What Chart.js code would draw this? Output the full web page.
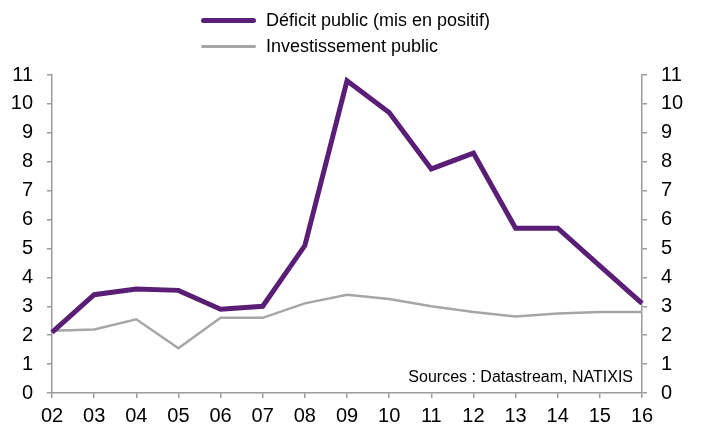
<!DOCTYPE html>
<html>
<head>
<meta charset="utf-8">
<script src="https://cdn.jsdelivr.net/npm/chart.js@4"></script>
<style>
  body { margin: 0; background: #fff; }
  #wrap { position: relative; width: 702px; height: 427px; }
  #legend { position: absolute; left: 201px; top: 7px; font: 18px "Liberation Sans", Arial, sans-serif; color: #000; }
  .row { display: flex; align-items: center; height: 26px; }
  .sw { width: 55px; margin-right: 10px; border-radius: 3px; }
</style>
</head>
<body>
<div id="wrap">
  <canvas id="chart" width="702" height="427"></canvas>
  <div id="legend">
    <div class="row"><span class="sw" style="height:5px;background:#5B1E77"></span>Déficit public (mis en positif)</div>
    <div class="row"><span class="sw" style="height:3px;background:#A6A6A6"></span>Investissement public</div>
  </div>
</div>
<script>
// années
const years = ["02", "03", "04", "05", "06", "07", "08", "09", "10", "11", "12", "13", "14", "15", "16"];
// déficit public (mis en positif), % du PIB
const deficit = [2.1, 3.4, 3.6, 3.55, 2.9, 3.0, 5.1, 10.8, 9.7, 7.75, 8.3, 5.7, 5.7, 4.4, 3.1];
// investissement public
const invest = [2.15, 2.2, 2.55, 1.55, 2.6, 2.6, 3.1, 3.4, 3.25, 3.0, 2.8, 2.65, 2.75, 2.8, 2.8];
const yTicks = [0, 1, 2, 3, 4, 5, 6, 7, 8, 9, 10, 11];

const fontFam = '"Liberation Sans", Arial, sans-serif';
const axisGrey = "#9B9B9B";

const sourcePlugin = {
    id: "source",
    afterDraw(chart) {
        const ctx = chart.ctx;
        ctx.save();
        ctx.font = "16px " + fontFam;
        ctx.fillStyle = "#000";
        ctx.textAlign = "right";
        ctx.textBaseline = "alphabetic";
        ctx.fillText("Sources : Datastream, NATIXIS", 633, 382);
        ctx.restore();
    }
};

function yAxis(pos, width, pad) {
    return {
        type: "linear",
        position: pos,
        min: 0,
        max: 11,
        afterBuildTicks: s => { s.ticks = yTicks.map(v => ({ value: v })); },
        afterFit: s => { s.width = width; },
        ticks: { color: "#000", font: { size: 20, family: fontFam }, padding: pad },
        grid: { drawOnChartArea: false, drawTicks: true, tickLength: 5, color: axisGrey, lineWidth: 1.5 },
        border: { color: axisGrey, width: 1.5 }
    };
}

new Chart(document.getElementById("chart").getContext("2d"), {
    type: "line",
    data: {
        labels: years,
        datasets: [
            {
                label: "Déficit public (mis en positif)",
                data: deficit,
                borderColor: "#5B1E77",
                borderWidth: 5,
                pointRadius: 0,
                tension: 0,
                yAxisID: "y"
            },
            {
                label: "Investissement public",
                data: invest,
                borderColor: "#A6A6A6",
                borderWidth: 2.5,
                pointRadius: 0,
                tension: 0,
                yAxisID: "y"
            }
        ]
    },
    options: {
        responsive: false,
        animation: false,
        layout: { padding: { top: 75, left: 0, right: 0, bottom: 0 } },
        plugins: { legend: { display: false }, tooltip: { enabled: false } },
        scales: {
            x: {
                offset: false,
                afterFit: s => { s.height = 34; },
                ticks: { color: "#000", font: { size: 20, family: fontFam }, padding: 6, maxRotation: 0, autoSkip: false },
                grid: { drawOnChartArea: false, drawTicks: true, tickLength: 5, color: axisGrey, lineWidth: 1.5 },
                border: { color: axisGrey, width: 1.5 }
            },
            y: yAxis("left", 52, 14),
            y2: yAxis("right", 60, 14)
        }
    },
    plugins: [sourcePlugin]
});
</script>
</body>
</html>
